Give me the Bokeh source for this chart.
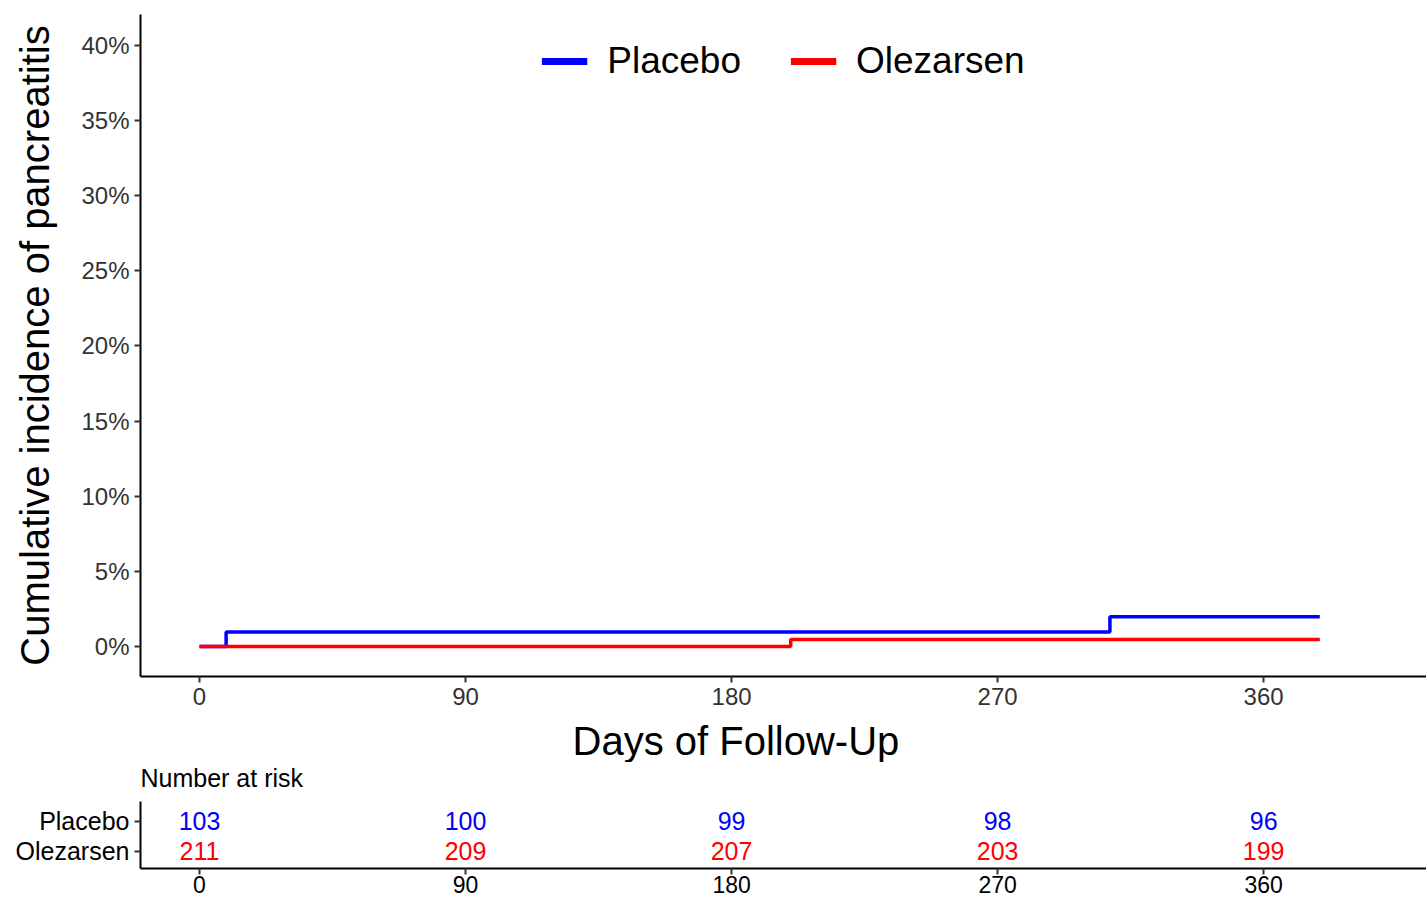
from bokeh.plotting import figure
from bokeh.models import (Range1d, FixedTicker, PrintfTickFormatter, Legend,
                          LegendItem, Title, ColumnDataSource)
from bokeh.layouts import column
from bokeh.embed import file_html
from bokeh.resources import INLINE
from bokeh.core.properties import value

FONT = "Liberation Sans"

# ---- data ----
groups = ["Placebo", "Olezarsen"]
group_colors = ["#0000FF", "#FF0000"]
placebo_days = [0, 9, 308, 379]
placebo_inc = [0.0, 0.97, 1.98, 1.98]
olez_days = [0, 200, 379]
olez_inc = [0.0, 0.47, 0.47]
risk_days = [0, 90, 180, 270, 360]
placebo_risk = [103, 100, 99, 98, 96]
olez_risk = [211, 209, 207, 203, 199]
x_ticks = [0, 90, 180, 270, 360]
y_ticks = [0, 5, 10, 15, 20, 25, 30, 35, 40]
NAN = float("nan")


def style_axes(p, tick_color):
    for ax in (p.xaxis, p.yaxis):
        ax.axis_line_color = "black"
        ax.axis_line_width = 2
        ax.major_tick_line_color = "#333333"
        ax.major_tick_line_width = 2
        ax.major_tick_out = 6
        ax.major_tick_in = 0
        ax.minor_tick_line_color = None
        ax.major_label_text_font = FONT
        ax.major_label_text_color = tick_color
        ax.major_label_text_font_size = "24px"
        ax.major_label_standoff = 5
    p.xgrid.visible = False
    p.ygrid.visible = False
    p.outline_line_color = None


# ---- main plot ----
x_range = Range1d(-19.96, 415.1)
p1 = figure(frame_width=1286, frame_height=662,
            x_range=x_range, y_range=Range1d(-2.0, 42.06),
            output_backend="svg", toolbar_location=None, title=None,
            min_border_left=140, min_border_right=0,
            min_border_top=14, min_border_bottom=86)
style_axes(p1, "#333333")
p1.xaxis.ticker = FixedTicker(ticks=x_ticks)
# invisible spacer under the tick labels (keeps the title at its place)
p1.xaxis.axis_label = " "
p1.xaxis.axis_label_text_font_size = "1px"
p1.xaxis.axis_label_standoff = 5
p1.yaxis.ticker = FixedTicker(ticks=y_ticks)
p1.yaxis.formatter = PrintfTickFormatter(format="%d%%")
p1.yaxis.axis_label = "Cumulative incidence of pancreatitis"
p1.yaxis.axis_label_text_font = FONT
p1.yaxis.axis_label_text_font_size = "40px"
p1.yaxis.axis_label_text_font_style = "normal"
p1.yaxis.axis_label_text_color = "black"
p1.yaxis.axis_label_standoff = 21

p1.step(placebo_days, placebo_inc, mode="after", line_color=group_colors[0], line_width=3.5)
p1.step(olez_days, olez_inc, mode="after", line_color=group_colors[1], line_width=3.5)

# legend keys (drawn thicker than the curves, as in the reference)
d1 = p1.line(x=[NAN, NAN], y=[NAN, NAN], line_color=group_colors[0], line_width=7)
d2 = p1.line(x=[NAN, NAN], y=[NAN, NAN], line_color=group_colors[1], line_width=7)
legend = Legend(items=[LegendItem(label=groups[0], renderers=[d1]),
                       LegendItem(label=groups[1], renderers=[d2])],
                orientation="horizontal", location="top_center",
                glyph_width=46, glyph_height=44, label_height=44,
                label_standoff=20, spacing=49, padding=0, margin=25,
                border_line_color=None, background_fill_alpha=0,
                label_text_font=FONT, label_text_font_size="37px",
                label_text_color="black")
p1.add_layout(legend)

xtitle = Title(text="Days of Follow-Up", align="left", offset=432,
               text_font=FONT, text_font_size="40px", text_font_style="normal",
               text_color="black", standoff=0, vertical_align="bottom")
p1.add_layout(xtitle, "below")

# ---- risk table ----
ROW_LO, ROW_HI = 0.433, 2.667          # visible extent of the table's y axis
TABLE_H = 106
p2 = figure(frame_width=1286, frame_height=TABLE_H,
            x_range=x_range, y_range=Range1d(ROW_LO, ROW_LO + TABLE_H / 30),
            output_backend="svg", toolbar_location=None, title=None,
            min_border_left=140, min_border_right=0,
            min_border_top=0, min_border_bottom=31)
style_axes(p2, "black")
p2.xaxis.ticker = FixedTicker(ticks=x_ticks)
p2.xaxis.major_label_standoff = 1
p2.xaxis.major_label_text_font_size = "23px"
p2.yaxis.ticker = FixedTicker(ticks=[1, 2])
p2.yaxis.bounds = (ROW_LO, ROW_HI)
p2.yaxis.major_label_overrides = {1: groups[1], 2: groups[0]}
p2.yaxis.major_label_text_font_size = "25px"

# heading of the table
p2.text(x=[x_range.start], y=[ROW_LO + 91 / 30], text=["Number at risk"],
        text_align="left", text_baseline="middle", text_color="black",
        text_font=value(FONT), text_font_size="25px")

rows = []
for days, risk, yrow, col in ((risk_days, placebo_risk, 2, group_colors[0]),
                              (risk_days, olez_risk, 1, group_colors[1])):
    for d, r in zip(days, risk):
        rows.append((d, yrow, str(r), col))
src = ColumnDataSource(dict(x=[r[0] for r in rows], y=[r[1] for r in rows],
                            t=[r[2] for r in rows], c=[r[3] for r in rows]))
p2.text(x="x", y="y", text="t", text_color="c", source=src,
        text_align="center", text_baseline="middle",
        text_font=value(FONT), text_font_size="25px")

layout = column(p1, p2)
open("out.html", "w").write(file_html(layout, INLINE))
